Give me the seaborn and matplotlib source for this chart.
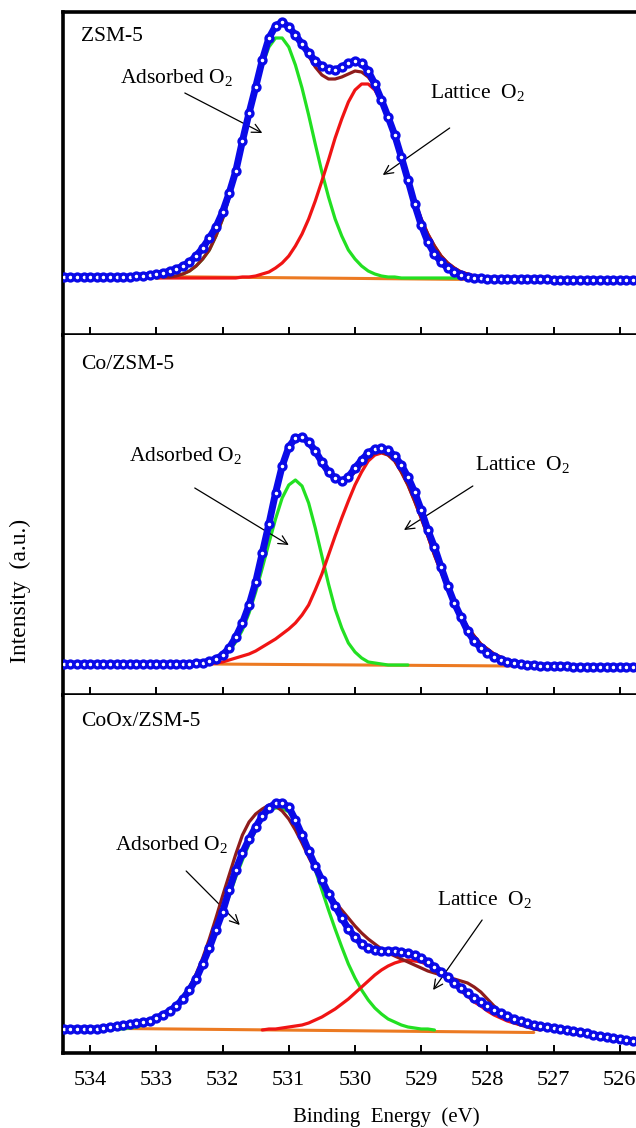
import numpy as np
import pandas as pd
import matplotlib
matplotlib.use("Agg")
import matplotlib.pyplot as plt
import seaborn as sns

# ---------------- data (binding energy in eV, intensity in a.u.) ----------------
E_START, E_STEP, N_PTS = 534.4, 0.1, 88          # measured grid 534.4 -> 525.7 eV
ticks = [534, 533, 532, 531, 530, 529, 528, 527, 526]
samples = ["ZSM-5", "Co/ZSM-5", "CoOx/ZSM-5"]

# measured spectra (blue circles)
zsm_data = [1, 1, 1, 1, 1, 1, 1, 1, 1, 1, 1,
            2, 2, 3, 4, 5, 7, 9, 12, 16, 22,
            30, 40, 51, 66, 85, 107, 137, 165, 191, 218,
            240, 252, 256, 251, 243, 234, 225, 217, 212, 209,
            208, 211, 215, 217, 215, 207, 194, 178, 161, 143,
            121, 98, 74, 53, 36, 24, 16, 10, 6, 3,
            1, 0, 0, -1,
            -1, -1, -1, -1, -1, -1, -1, -1, -1, -2, -2, -2, -2, -2, -2, -2, -2, -2, -2, -2, -2, -2, -2]
co_data = [1] * 19 + [
            1, 2, 2, 4, 6, 10, 17, 28, 42, 60,
            83, 112, 141, 172, 199, 218, 227, 228, 223, 214,
            203, 193, 187, 184, 188, 197, 205, 212, 216, 217,
            215, 209, 200, 188, 173, 155, 135, 118, 98, 79,
            62, 48, 34, 24, 17, 12, 8, 5, 3, 2,
            1, 0, 0, -1, -1, -1, -1, -1, -2, -2, -2, -2, -2, -2, -2, -2, -2, -2, -2]
coox_data = [1, 1, 1, 1, 1, 1, 2, 3, 4, 5,
             6, 7, 8, 9, 12, 15, 19, 24, 31, 40,
             51, 66, 82, 100, 118, 140, 160, 177, 191, 203,
             214, 222, 227, 227, 223, 210, 195, 179, 164, 150,
             136, 124, 112, 101, 93, 86, 82, 80, 79, 79,
             79, 78, 77, 75, 72, 68, 63, 58, 53, 47,
             42, 37, 32, 28, 24, 20, 17, 14, 11, 9,
             7, 5, 4, 3, 2, 1, 0, -1, -2, -3,
             -5, -6, -7, -8, -9, -10, -11, -12]

# adsorbed-oxygen component (green): start energy + values every 0.1 eV
zsm_ads_start = 533.0
zsm_ads = [0, 1, 1, 2, 4, 7, 12, 19, 28, 42, 59, 81, 106, 134, 163, 190, 213, 231, 240, 240,
           231, 213, 190, 163, 134, 106, 81, 59, 42, 28, 19, 12, 7, 4, 2, 1, 1, 0,
           0, 0, 0, 0, 0, 0, 0, 0, 0, 0]
co_ads_start = 532.4
co_ads = [0, 1, 2, 4, 8, 14, 23, 35, 52, 73, 97, 122, 146, 167, 180, 185,
          179, 162, 137, 109, 81, 56, 37, 22, 13, 7, 3, 2, 1, 0, 0, 0, 0]
coox_ads_start = 533.7
coox_ads = [0, 1, 1, 2, 3, 5, 7, 10, 14, 19, 26, 34, 43, 55, 68, 83, 99, 116, 134, 153,
            170, 186, 200, 211, 219, 222, 222, 218, 208, 195, 179, 160, 140, 120, 101, 83,
            66, 52, 40, 30, 22, 16, 11, 8, 5, 3, 2, 1, 1, 0]

# lattice-oxygen component (red)
zsm_lat_start = 533.0
zsm_lat = [0, 0, 0, 0, 0, 0, 0, 0, 0, 0, 0, 0,
           0, 1, 1, 2, 4, 6, 10, 15, 22, 32, 44, 59, 77, 97, 118, 140, 159, 176, 188, 194,
           194, 188, 176, 159, 140, 118, 97, 77, 59, 44, 32, 22, 15, 10, 6, 4, 2, 1, 1, 0]
co_lat_start = 532.3
co_lat = [0, 1, 2, 3, 5, 7, 9, 11, 14, 18, 22, 26, 31, 36, 42, 50, 60, 75, 91, 110,
          129, 147, 164, 180, 193, 204, 210, 212, 210, 204, 193, 180, 164, 147, 129, 110,
          93, 77, 62, 49, 38, 29, 21, 16, 11, 8, 5, 4, 2, 1, 1, 0]
coox_lat_start = 531.4
coox_lat = [0, 1, 1, 2, 3, 4, 5, 7, 10, 13, 17, 21, 26, 31, 37, 43, 49, 55, 60, 64,
            67, 69, 70, 69, 68, 65, 61, 56, 51, 45, 39, 34, 28, 24, 19, 15, 12, 9, 7, 5,
            4, 3, 2, 1, 1, 0]

# fitted envelope of CoOx/ZSM-5 (brown)
coox_env_start = 533.2
coox_env = [8, 9, 11, 14, 18, 24, 32, 43, 56, 72,
            91, 112, 134, 155, 176, 195, 208, 216, 221, 225,
            224, 219, 211, 200, 187, 173, 160, 148, 138, 128,
            120, 112, 104, 97, 91, 86, 81, 77, 74, 71,
            68, 65, 62, 59, 57, 55, 53, 51, 49, 47,
            43, 38, 31, 24, 18, 12, 8, 5, 3, 1, 0]

# background lines (orange): end energies and intensities
zsm_bg_e, zsm_bg_i = [533.1, 528.2], [1.5, -1.5]
co_bg_e, co_bg_i = [532.2, 527.6], [1.0, -1.0]
coox_bg_e, coox_bg_i = [533.5, 527.3], [1.5, -2.5]

# ---------------- helpers ----------------
def grid(start, n):
    return np.round(start - E_STEP * np.arange(n), 1)

energy = grid(E_START, N_PTS)

def frame(start, vals):
    return pd.DataFrame({"E": grid(start, len(vals)), "I": vals})

def on_grid(start, vals):
    return pd.Series(vals, index=grid(start, len(vals))).reindex(energy, fill_value=0)

panels = [
    dict(name=samples[0], data=zsm_data, ads=(zsm_ads_start, zsm_ads), lat=(zsm_lat_start, zsm_lat),
         env=None, bg=(zsm_bg_e, zsm_bg_i)),
    dict(name=samples[1], data=co_data, ads=(co_ads_start, co_ads), lat=(co_lat_start, co_lat),
         env=None, bg=(co_bg_e, co_bg_i)),
    dict(name=samples[2], data=coox_data, ads=(coox_ads_start, coox_ads), lat=(coox_lat_start, coox_lat),
         env=(coox_env_start, coox_env), bg=(coox_bg_e, coox_bg_i)),
]

# ---------------- style ----------------
sns.set_theme(style="white")
plt.rcParams["font.family"] = ["Liberation Serif", "DejaVu Serif"]
plt.rcParams["mathtext.fontset"] = "custom"
plt.rcParams["mathtext.rm"] = "Liberation Serif"
plt.rcParams["mathtext.it"] = "Liberation Serif:italic"
plt.rcParams["mathtext.bf"] = "Liberation Serif:bold"

BLUE = "#0a0ae8"
GREEN = "#22e022"
RED = "#f01414"
BROWN = "#8e1c1c"
ORANGE = "#ec7a22"
FS = 15.5

W, H = 636, 1128
fig = plt.figure(figsize=(W / 100, H / 100), dpi=100)

# layout (pixel rows of each panel) and view limits
rows = [(12, 335), (335, 695), (695, 1053)]
ylims = [(-57, 266), (-30, 330), (-23, 335)]
x_left_px, x_right_px = 63, 645
xlim = (534.41, 525.62)

label_y = [0.91, 0.905, 0.913]
ann = [
    # (text, text x, text y, arrow start, arrow end)
    [("Adsorbed O$_\\mathrm{2}$", 533.55, 195, (532.57, 185), (531.40, 145)),
     ("Lattice  O$_\\mathrm{2}$", 528.87, 180, (528.57, 150), (529.58, 103))],
    [("Adsorbed O$_\\mathrm{2}$", 533.41, 204, (532.42, 177), (531.00, 120)),
     ("Lattice  O$_\\mathrm{2}$", 528.19, 195, (528.22, 179), (529.26, 135))],
    [("Adsorbed O$_\\mathrm{2}$", 533.62, 180, (532.55, 159), (531.74, 105)),
     ("Lattice  O$_\\mathrm{2}$", 528.76, 125, (528.08, 110), (528.82, 40))],
]

for k, (p, (top, bot)) in enumerate(zip(panels, rows)):
    ax = fig.add_axes([x_left_px / W, 1 - bot / H, (x_right_px - x_left_px) / W, (bot - top) / H])

    bg = pd.DataFrame({"E": p["bg"][0], "I": p["bg"][1]})
    sns.lineplot(data=bg, x="E", y="I", ax=ax, color=ORANGE, linewidth=2.2,
                 estimator=None, sort=False, zorder=2)
    sns.lineplot(data=frame(*p["ads"]), x="E", y="I", ax=ax, color=GREEN, linewidth=2.3,
                 estimator=None, sort=False, zorder=3)
    sns.lineplot(data=frame(*p["lat"]), x="E", y="I", ax=ax, color=RED, linewidth=2.3,
                 estimator=None, sort=False, zorder=3)
    if p["env"] is None:
        env = on_grid(*p["ads"]) + on_grid(*p["lat"])
        env = env[env > 0]
        env_df = pd.DataFrame({"E": env.index, "I": env.values})
    else:
        env_df = frame(*p["env"])
    sns.lineplot(data=env_df, x="E", y="I", ax=ax, color=BROWN, linewidth=2.3,
                 estimator=None, sort=False, zorder=4)
    meas = pd.DataFrame({"E": energy, "I": p["data"]})
    sns.lineplot(data=meas, x="E", y="I", ax=ax, color=BLUE, linewidth=5.0,
                 marker="o", markersize=5.0, markerfacecolor="white",
                 markeredgecolor=BLUE, markeredgewidth=2.4,
                 estimator=None, sort=False, zorder=5)

    ax.set_xlim(*xlim)
    ax.set_ylim(*ylims[k])
    ax.set_xlabel("")
    ax.set_ylabel("")
    ax.set_yticks([])
    ax.set_xticks(ticks)
    ax.tick_params(axis="x", direction="in", length=5.5, width=1.4, color="black",
                   bottom=True, top=False, labelsize=16, pad=13,
                   labelbottom=(k == 2), labelcolor="black")
    for side in ["left", "bottom", "top"]:
        ax.spines[side].set_color("black")
        ax.spines[side].set_linewidth(2.6)
    ax.spines["right"].set_visible(False)
    if k > 0:
        ax.spines["top"].set_visible(False)

    ax.text(0.031, label_y[k], p["name"], transform=ax.transAxes, fontsize=FS,
            ha="left", va="baseline", color="black")
    for txt, tx, ty, a0, a1 in ann[k]:
        ax.text(tx, ty, txt, fontsize=FS, ha="left", va="baseline", color="black")
        ax.annotate("", xy=a1, xytext=a0,
                    arrowprops=dict(arrowstyle="->", lw=0.9, color="black",
                                    mutation_scale=16, shrinkA=0, shrinkB=0))

fig.text(20 / W, 1 - 591 / H, "Intensity  (a.u.)", rotation=90, fontsize=17,
         ha="center", va="center", color="black")
fig.text(386 / W, 1 - 1117 / H, "Binding  Energy  (eV)", fontsize=15,
         ha="center", va="center", color="black")

fig.savefig("out.png", dpi=100)
